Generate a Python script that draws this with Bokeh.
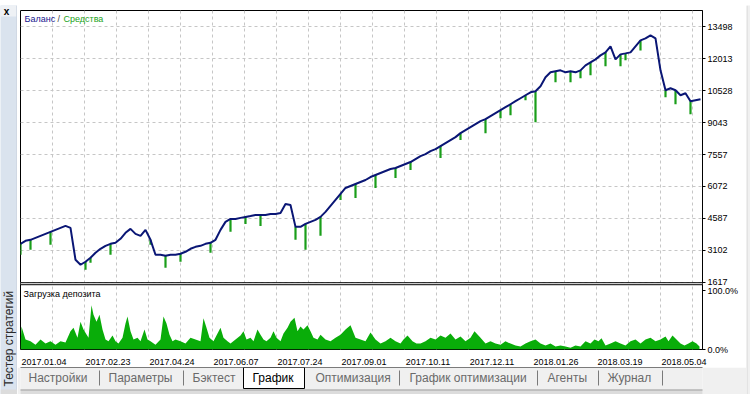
import math
from bokeh.plotting import figure
from bokeh.layouts import row, column
from bokeh.models import Range1d, FixedTicker, Span, BoxAnnotation, Label
from bokeh.core.properties import value
from bokeh.embed import file_html
from bokeh.resources import INLINE

# ---------------- data ----------------
# balance, one value per step of the trade sequence
balance = [
    3404, 3543, 3590, 3682, 3775, 3868, 3961, 4054, 4147, 4239,
    4147, 2661, 2429, 2569, 2754, 2986, 3172, 3311, 3404, 3450,
    3636, 3915, 4100, 3868, 3775, 4054, 3590, 2893, 2893, 2847,
    2893, 2893, 2940, 3033, 3172, 3265, 3311, 3404, 3450, 3590,
    4054, 4425, 4564, 4564, 4611, 4657, 4703, 4750, 4750, 4750,
    4796, 4796, 4843, 5260, 5214, 4193, 4193, 4332, 4425, 4518,
    4657, 4889, 5168, 5446, 5724, 6003, 6096, 6189, 6281, 6374,
    6513, 6606, 6699, 6792, 6885, 6931, 7024, 7117, 7210, 7349,
    7488, 7581, 7720, 7813, 7952, 8091, 8231, 8370, 8556, 8695,
    8834, 8973, 9112, 9205, 9344, 9484, 9623, 9762, 9901, 10041,
    10180, 10319, 10458, 10505, 10737, 11154, 11387, 11433, 11479, 11387,
    11433, 11387, 11479, 11711, 11851, 11990, 12175, 12315, 12593, 11990,
    12222, 12268, 12315, 12593, 12872, 12964, 13104, 12964, 11479, 10551,
    10644, 10551, 10319, 10412, 10041, 10087, 10133,
]
# equity drawdown spikes: step index and lowest equity
spike_idx = [0, 2, 6, 13, 14, 18, 26, 29, 32, 38, 42, 45, 48, 55, 57, 60, 64,
             67, 71, 75, 78, 84, 88, 93, 96, 98, 101, 103, 107, 110, 112, 114,
             117, 120, 121, 124, 129, 131, 134]
spike_low = [2893, 3126, 3358, 2197, 2522, 2893, 3358, 2290, 2569, 2986, 3961,
             4332, 4239, 3590, 3126, 3775, 5446, 5539, 6003, 6467, 6838, 7395,
             8231, 8556, 9252, 9391, 10087, 9066, 10922, 10922, 11108, 11247,
             11665, 11665, 11943, 12407, 10226, 9901, 9437]
# deposit load (%) along the same step axis
load_pos = [0, 0.2, 1, 2, 3, 4, 5, 6, 7, 8, 9, 10, 10.6, 11.4, 12, 12.6, 13.6,
            14.2, 14.6, 15.2, 15.8, 16.4, 17, 17.6, 18.4, 19, 19.6, 20.4, 21,
            21.4, 22, 22.6, 23.4, 24, 24.8, 25.4, 26, 27, 28, 28.6, 29.2, 29.8,
            30.4, 31, 32, 33, 34, 35, 36, 36.6, 37.2, 37.8, 38.6, 39.4, 40,
            40.6, 41.4, 42, 43, 44, 44.6, 45.2, 46, 46.6, 47.4, 48, 48.6, 49.2,
            50, 50.6, 51.2, 52, 52.6, 53.4, 54, 54.8, 55.4, 56, 56.6, 57.4, 58,
            58.6, 59.4, 60, 61, 62, 63, 64, 65, 66, 67, 68, 69, 70, 71, 72, 73,
            74, 75, 76, 76.6, 77.4, 78.4, 79.2, 80, 81, 82, 83, 84, 85, 86, 87,
            88, 89, 90, 90.8, 92, 93, 94, 95, 96, 97, 98, 99, 100, 101, 102,
            103, 104, 105, 106, 107, 108, 109, 110, 111, 112, 113, 114, 114.8,
            115.6, 116.2, 117, 118, 119, 120, 121, 122, 123, 124, 125, 126, 127,
            128, 129, 129.6, 130.4, 131.2, 132, 132.8, 133.6, 134.4, 135.2,
            135.8]
load_pct = [5, 39, 17, 14, 8, 17, 10, 14, 8, 14, 12, 31, 37, 20, 47, 34, 20,
            75, 59, 47, 59, 34, 17, 14, 24, 14, 10, 20, 44, 56, 31, 17, 20, 14,
            34, 17, 14, 8, 17, 56, 44, 25, 14, 17, 14, 10, 20, 17, 14, 53, 37,
            20, 14, 27, 37, 20, 14, 10, 17, 24, 31, 17, 20, 14, 34, 25, 17, 14,
            20, 31, 20, 14, 27, 37, 47, 54, 31, 39, 34, 41, 31, 20, 17, 25, 17,
            14, 20, 25, 34, 41, 20, 17, 14, 29, 17, 10, 14, 20, 14, 10, 17, 24,
            14, 10, 10, 14, 20, 17, 24, 20, 27, 17, 22, 14, 20, 31, 20, 10, 14,
            10, 8, 14, 10, 7, 5, 10, 14, 17, 10, 7, 10, 5, 7, 5, 3, 7, 5, 14,
            10, 17, 14, 19, 7, 10, 14, 10, 7, 14, 17, 10, 17, 20, 14, 17, 22,
            14, 24, 17, 10, 7, 10, 14, 10, 5]

date_labels = ["2017.01.04", "2017.02.23", "2017.04.24", "2017.06.07",
               "2017.07.24", "2017.09.01", "2017.10.11", "2017.12.11",
               "2018.01.26", "2018.03.19", "2018.05.04"]
bal_ticks = [1617, 3102, 4587, 6072, 7557, 9043, 10528, 12013, 13498]
pct_ticks = [0, 100]
pct_labels = ["0.0%", "100.0%"]
tab_names = ["Настройки", "Параметры", "Бэктест", "График", "Оптимизация",
             "График оптимизации", "Агенты", "Журнал"]
selected_tab = "График"
side_title = "Тестер стратегий"

# ---------------- layout / style ----------------
W, H = 750, 394
TOP_H = 5          # window top bar
LEFT_W = 17        # side strip
RIGHT_W = 4        # right window edge
TABS_H = 27        # tab strip height
MID_W = W - LEFT_W - RIGHT_W
MAIN_H = H - TOP_H - TABS_H
# chart frame edges inside the main figure (px)
FL, FR, FT, FB = 3, 685, 5, 345
X_END = 136.4                               # steps across the frame
BAL_LOW, BAL_HIGH = -1515, 14264            # balance scale over whole frame
DEP_HIGH = 576                              # deposit-load scale over whole frame
FONT = "Liberation Sans"
NAVY = "#0a1675"
EQ_GREEN = "#1a9e1a"
LOAD_GREEN = "#09ad09"
GRID = "#c6c6c6"
CHROME = "#f0f0f0"


def blank(w, h, xr, yr, bg, bl=0, br=0):
    f = figure(width=w, height=h, output_backend="svg", toolbar_location=None,
               x_range=Range1d(*xr), y_range=Range1d(*yr),
               min_border=0, min_border_left=bl, min_border_right=br,
               x_axis_type=None, y_axis_type=None)
    f.background_fill_color = bg
    f.border_fill_color = bg
    f.outline_line_color = None
    f.grid.visible = False
    return f


# ---------- main chart ----------
p = figure(width=MID_W, height=MAIN_H, output_backend="svg", toolbar_location=None,
           x_range=Range1d(0, X_END), y_range=Range1d(BAL_LOW, BAL_HIGH),
           y_axis_location="right",
           min_border_left=FL, min_border_right=MID_W - FR,
           min_border_top=FT, min_border_bottom=MAIN_H - FB)
p.extra_y_ranges = {"dep": Range1d(0, DEP_HIGH)}
p.background_fill_color = "white"
p.border_fill_color = "white"
p.outline_line_color = "black"
p.outline_line_width = 1

px_bal = (BAL_HIGH - BAL_LOW) / (FB - FT)   # balance units per pixel
panel_bottom = bal_ticks[0] - 0.5 * px_bal  # lower edge of balance panel

p.xgrid.ticker = FixedTicker(ticks=[6.4 * k for k in range(1, 22)])
p.ygrid.ticker = FixedTicker(ticks=bal_ticks)
for g in (p.xgrid, p.ygrid):
    g.grid_line_color = GRID
    g.grid_line_dash = "3 3"
    g.grid_line_width = 1

pct_pos = [round(BAL_LOW + v / DEP_HIGH * (BAL_HIGH - BAL_LOW)) for v in pct_ticks]
ya = p.yaxis[0]
ya.ticker = FixedTicker(ticks=bal_ticks + pct_pos)
ya.major_label_overrides = {k: t for k, t in zip(pct_pos, pct_labels)}
ya.major_tick_out = 3
ya.major_tick_in = 0
ya.major_tick_line_color = "black"
ya.axis_line_color = "black"
ya.minor_tick_line_color = None
ya.major_label_standoff = 2
ya.major_label_text_font = FONT
ya.major_label_text_font_size = "9px"
ya.major_label_text_color = "black"

x_ticks = [4.7 + 12.8 * k for k in range(len(date_labels))]
xa = p.xaxis[0]
xa.ticker = FixedTicker(ticks=x_ticks)
xa.major_label_overrides = {k: t for k, t in zip(x_ticks, date_labels)}
xa.major_tick_line_color = None
xa.minor_tick_line_color = None
xa.axis_line_color = None
xa.major_label_standoff = 3
xa.major_label_text_font = FONT
xa.major_label_text_font_size = "9px"
xa.major_label_text_color = "black"

p.varea(x=load_pos, y1=[0] * len(load_pct), y2=load_pct, y_range_name="dep",
        fill_color=LOAD_GREEN)

steps = list(range(len(balance)))
p.segment(x0=spike_idx, y0=[balance[i] for i in spike_idx], x1=spike_idx,
          y1=spike_low, line_color=EQ_GREEN, line_width=2.2)
p.line(steps, balance, line_color=NAVY, line_width=2)

p.add_layout(BoxAnnotation(bottom=panel_bottom - 2 * px_bal, top=panel_bottom,
                           fill_color="white", fill_alpha=1, line_color=None))
p.add_layout(Span(location=panel_bottom, dimension="width", line_color="black", line_width=1))
p.add_layout(Span(location=panel_bottom - 2 * px_bal, dimension="width",
                  line_color="black", line_width=1))


def plabel(x, y, text, color="black"):
    p.add_layout(Label(x=x, y=y, x_units="canvas", y_units="canvas", text=text,
                       text_font=FONT, text_font_size="9px", text_color=color,
                       text_align="left", text_baseline="middle"))


plabel(FL + 4, FT + 8, "Баланс", "#16168f")
plabel(FL + 37, FT + 8, "/", "#444444")
plabel(FL + 43, FT + 8, "Средства", "#22a322")
plabel(FL + 3, 288, "Загрузка депозита")

# ---------- top bar ----------
top = blank(W, TOP_H, (0, W), (TOP_H, 0), CHROME)
top.quad(left=[0], right=[W], top=[TOP_H - 1], bottom=[TOP_H], fill_color="#d2d2d2",
         line_color=None)

# ---------- left strip ----------
SH = H - TOP_H
left = blank(LEFT_W, SH, (0, LEFT_W), (SH, 0), "#dae3ee")
left.quad(left=[0], right=[LEFT_W - 1], top=[0], bottom=[11], fill_color="#eef1f5",
          line_color=None)
left.quad(left=[LEFT_W - 1], right=[LEFT_W], top=[0], bottom=[SH], fill_color="#c5ced9",
          line_color=None)
left.quad(left=[0], right=[LEFT_W], top=[SH - 5], bottom=[SH], fill_color="#dcdcdc",
          line_color=None)
left.text(x=[6], y=[6], text=["x"], text_font=value(FONT), text_font_size="10px",
          text_font_style="bold", text_color="black", text_align="center",
          text_baseline="middle")
left.text(x=[8.5], y=[SH - 8], text=[side_title], angle=math.pi / 2,
          text_font=value(FONT), text_font_size="12px", text_color="#2b2b2b",
          text_align="left", text_baseline="middle")

# ---------- right edge ----------
right = blank(RIGHT_W, SH, (0, RIGHT_W), (SH, 0), CHROME)
right.quad(left=[0], right=[1], top=[0], bottom=[SH], fill_color="#d6d6d6", line_color=None)

# ---------- tab strip (frame aligned with the chart frame above) ----------
tabs = blank(MID_W, TABS_H, (FL, FR), (TABS_H, 0), CHROME, bl=FL, br=MID_W - FR)
tabs.quad(left=[0], right=[MID_W], top=[-1], bottom=[0.6], fill_color="black", line_color=None)
tabs.quad(left=[0], right=[MID_W], top=[TABS_H - 5], bottom=[TABS_H], fill_color="#dcdcdc",
          line_color=None)
tabs.quad(left=[0], right=[MID_W], top=[TABS_H - 5], bottom=[TABS_H - 4], fill_color="#a0a0a0",
          line_color=None)
tab_x = [11, 91, 175, 235, 298, 392, 530, 590]
sep_x = [82, 166, 382, 520, 581, 645]
sel = tab_names.index(selected_tab)
tabs.quad(left=[tab_x[sel] - 9], right=[tab_x[sel] + 52], top=[0], bottom=[TABS_H - 6],
          fill_color="white", line_color="black", line_width=1)
tabs.text(x=tab_x, y=[10.5] * len(tab_names), text=tab_names, text_font=value(FONT),
          text_font_size="12px",
          text_color=["black" if n == selected_tab else "#6a6a6a" for n in tab_names],
          text_align="left", text_baseline="middle")
tabs.segment(x0=sep_x, y0=[3] * len(sep_x), x1=sep_x, y1=[18] * len(sep_x),
             line_color="#7a7a7a", line_width=1)

layout = column(top, row(left, column(p, tabs, spacing=0), right, spacing=0), spacing=0)
open("out.html", "w").write(file_html(layout, INLINE))
